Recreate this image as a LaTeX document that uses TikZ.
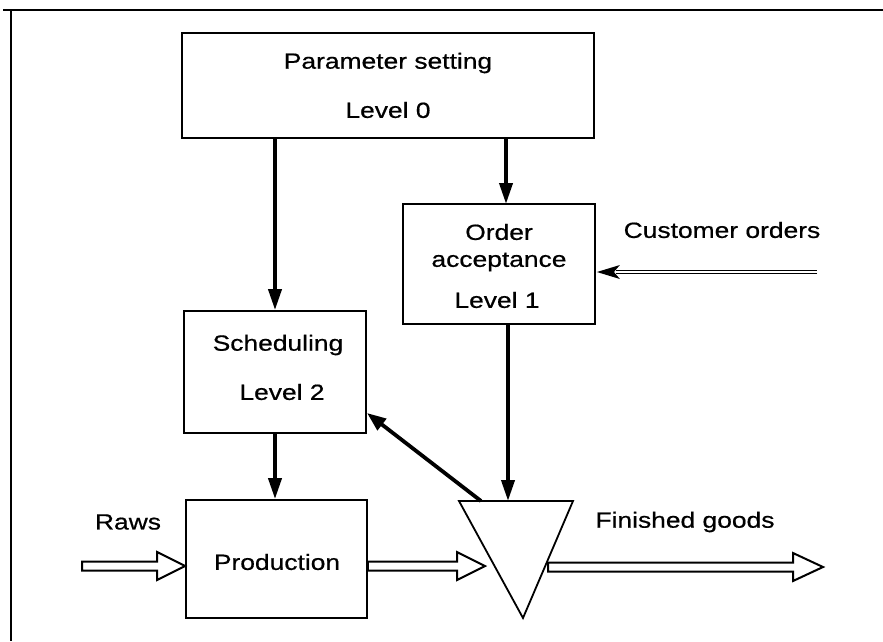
\documentclass[tikz,border=0pt]{standalone}
\usepackage{fontspec}
\setmainfont[FakeStretch=1.2,FakeBold=0.6]{Liberation Sans}
\usetikzlibrary{arrows.meta,calc}
\newcommand\hollowarr[3]{%
  \draw[hollow] ($(#1)+(0,-4.5)$) -- ($(#2)+(-#3,-4.5)$) -- ($(#2)+(-#3,-14)$) -- (#2)
    -- ($(#2)+(-#3,14)$) -- ($(#2)+(-#3,4.5)$) -- ($(#1)+(0,4.5)$) -- cycle;}
\begin{document}
\begin{tikzpicture}[x=1pt,y=-1pt,
  box/.style={draw,line width=1.8pt,inner sep=0pt},
  lbl/.style={font=\fontsize{22}{25}\selectfont,inner sep=0pt},
  flow/.style={line width=3.8pt,-{Triangle[length=21pt,width=13pt]}},
  hollow/.style={draw,line width=2pt,fill=white,line join=miter},
  frame/.style={line width=1.6pt}]
\useasboundingbox (0,0) rectangle (883,641);
% frame
\coordinate (fTL) at (11,10);
\coordinate (fTR) at (883,10);
\coordinate (fBL) at (11,641);
\draw[frame] (3,10) -- (fTR);
\draw[frame] (fTL) -- (fBL);
% boxes
\node[box,minimum width=412pt,minimum height=105pt] (param) at (388,85.5) {};
\node[box,minimum width=192pt,minimum height=120pt] (order) at (499,264) {};
\node[box,minimum width=182pt,minimum height=122pt] (sched) at (275,372) {};
\node[box,minimum width=181pt,minimum height=118pt] (prod) at (276.5,559) {};
% triangle
\coordinate (tL) at (459,501);
\coordinate (tR) at (573,501);
\coordinate (tB) at (523,618);
\draw[line width=1.8pt,line join=miter] (tL) -- (tR) -- (tB) -- cycle;
% texts
\node[lbl] (paramA) at (388,63) {Parameter setting};
\node[lbl] (paramB) at (388,110) {Level 0};
\node[lbl] (orderA) at (499,232) {Order};
\node[lbl] (orderB) at (499,262) {acceptance};
\node[lbl] (orderC) at (497,300) {Level 1};
\node[lbl] (schedA) at (278,345) {Scheduling};
\node[lbl] (schedB) at (282,392) {Level 2};
\node[lbl] (prodA) at (277,562) {Production};
\node[lbl] (cust) at (722,230) {Customer orders};
\node[lbl] (raws) at (128,522) {Raws};
\node[lbl] (fin) at (685,522) {Finished goods};
% control arrows
\coordinate (po) at (506,204);
\draw[flow] (param.south -| po) -- (po);
\draw[flow] (param.south -| sched.north) -- (sched.north);
\coordinate (tT) at (508,501);
\draw[flow] (order.south -| tT) -- (tT);
\coordinate (tD) at (481,501);
\coordinate (sE) at (367,413);
\draw[line width=3.8pt,-{Triangle[length=19pt,width=14pt]}] (tD) -- (sE);
\draw[flow] (sched.south) -- (prod.north -| sched.south);
% customer orders
\coordinate (custIn) at (817,272);
\coordinate (custTip) at (order.east |- custIn);
\coordinate (custHead) at ($(custTip)+(20,0)$);
\draw[line width=1pt,double distance=2pt] (custIn) -- (custHead);
\fill ($(custTip)+(1,0)$) -- ($(custTip)+(24,-7)$) -- ($(custTip)+(18,0)$) -- ($(custTip)+(24,7)$) -- cycle;
% material flows
\coordinate (rawsIn) at (82,566);
\coordinate (rawsTip) at (prod.west |- rawsIn);
\hollowarr{rawsIn}{rawsTip}{28}
\coordinate (prodOut) at (prod.east |- rawsIn);
\coordinate (prodTip) at (485,566);
\hollowarr{prodOut}{prodTip}{28}
\coordinate (finOut) at (548,567);
\coordinate (finTip) at (823,567);
\hollowarr{finOut}{finTip}{30}
\end{tikzpicture}
\end{document}
